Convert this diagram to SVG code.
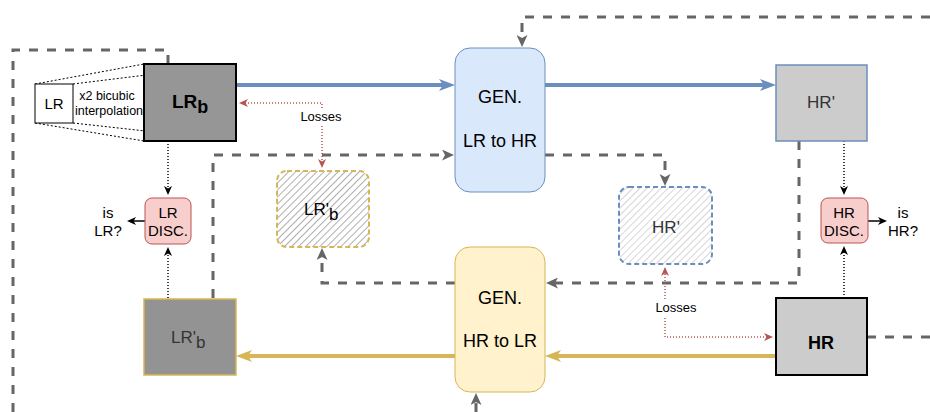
<svg xmlns="http://www.w3.org/2000/svg" width="930" height="412" viewBox="0 0 930 412">
  <style>
    text { font-family: "Liberation Sans", Arial, sans-serif; fill: #000; }
    .gen { font-size: 18px; text-anchor: middle; }
    .disc { font-size: 15px; text-anchor: middle; }
    .small { font-size: 15px; text-anchor: middle; }
    .loss { font-size: 13px; text-anchor: middle; }
    .feedback { fill: none; stroke: #666; stroke-width: 3; stroke-dasharray: 9 9; }
    .dotted { fill: none; stroke: #000; stroke-width: 1.5; stroke-dasharray: 1 2; }
    .lossline { fill: none; stroke: #b85450; stroke-width: 1.5; stroke-dasharray: 1 2; }
    .proj { fill: none; stroke: #000; stroke-width: 1; stroke-dasharray: 2 2; }
  </style>
  <defs>
    <marker id="arrBlue" markerUnits="userSpaceOnUse" markerWidth="16" markerHeight="12" refX="10" refY="6" orient="auto">
      <path d="M0,0 L16,6 L0,12 L4,6 z" fill="#6c8ebf"/>
    </marker>
    <marker id="arrYellow" markerUnits="userSpaceOnUse" markerWidth="16" markerHeight="12" refX="10" refY="6" orient="auto">
      <path d="M0,0 L16,6 L0,12 L4,6 z" fill="#d6b656"/>
    </marker>
    <marker id="arrGray" markerUnits="userSpaceOnUse" markerWidth="12" markerHeight="11" refX="7" refY="5.5" orient="auto">
      <path d="M0,0 L12,5.5 L0,11 L3,5.5 z" fill="#666"/>
    </marker>
    <marker id="arrBlack" markerUnits="userSpaceOnUse" markerWidth="9" markerHeight="8" refX="6" refY="4" orient="auto">
      <path d="M0,0 L9,4 L0,8 L2.5,4 z" fill="#000"/>
    </marker>
    <marker id="arrRed" markerUnits="userSpaceOnUse" markerWidth="9" markerHeight="8" refX="6" refY="4" orient="auto">
      <path d="M0,0 L9,4 L0,8 L2.5,4 z" fill="#b85450"/>
    </marker>
    <pattern id="hatchDark" width="5" height="5" patternUnits="userSpaceOnUse" patternTransform="rotate(45)">
      <rect width="5" height="5" fill="#fff"/>
      <line x1="0" y1="0" x2="0" y2="5" stroke="#777" stroke-width="1.2"/>
    </pattern>
    <pattern id="hatchLight" width="5" height="5" patternUnits="userSpaceOnUse" patternTransform="rotate(45)">
      <rect width="5" height="5" fill="#fff"/>
      <line x1="0" y1="0" x2="0" y2="5" stroke="#bbb" stroke-width="1.2"/>
    </pattern>
  </defs>

  <!-- connectors -->
  <g id="connectors">
    <!-- cycle feedback paths -->
    <path class="feedback" d="M168,64 V50 H13 V412"/>
    <path class="feedback" d="M930,17 H522 V42" marker-end="url(#arrGray)"/>
    <path class="feedback" d="M213,298 V155 H449" marker-end="url(#arrGray)"/>
    <path class="feedback" d="M545,155 H665 V181" marker-end="url(#arrGray)"/>
    <path class="feedback" d="M799,141 V283 H551" marker-end="url(#arrGray)"/>
    <path class="feedback" d="M455,283 H322 V253" marker-end="url(#arrGray)"/>
    <path class="feedback" d="M867,337 H930"/>
    <path class="feedback" d="M476,412 V398" marker-end="url(#arrGray)"/>

    <!-- generator data flow -->
    <line x1="236" y1="85" x2="449" y2="85" stroke="#6c8ebf" stroke-width="4" marker-end="url(#arrBlue)"/>
    <line x1="545" y1="85" x2="770" y2="85" stroke="#6c8ebf" stroke-width="4" marker-end="url(#arrBlue)"/>
    <line x1="776" y1="356" x2="551" y2="356" stroke="#d6b656" stroke-width="4" marker-end="url(#arrYellow)"/>
    <line x1="455" y1="356" x2="242" y2="356" stroke="#d6b656" stroke-width="4" marker-end="url(#arrYellow)"/>

    <!-- discriminator inputs -->
    <line class="dotted" x1="168" y1="141" x2="168" y2="192" marker-end="url(#arrBlack)"/>
    <line class="dotted" x1="168" y1="298" x2="168" y2="250" marker-end="url(#arrBlack)"/>
    <line class="dotted" x1="844" y1="141" x2="844" y2="192" marker-end="url(#arrBlack)"/>
    <line class="dotted" x1="844" y1="298" x2="844" y2="249" marker-end="url(#arrBlack)"/>
    <line x1="145" y1="221" x2="130" y2="221" stroke="#000" stroke-width="1.5" marker-end="url(#arrBlack)"/>
    <line x1="868" y1="221" x2="884" y2="221" stroke="#000" stroke-width="1.5" marker-end="url(#arrBlack)"/>

    <!-- reconstruction losses -->
    <path class="lossline" d="M322,108 V103 H242" marker-end="url(#arrRed)"/>
    <path class="lossline" d="M322,126 V165" marker-end="url(#arrRed)"/>
    <path class="lossline" d="M665,299 V270" marker-end="url(#arrRed)"/>
    <path class="lossline" d="M665,318 V337 H770" marker-end="url(#arrRed)"/>
    <text class="loss" x="321" y="121">Losses</text>
    <text class="loss" x="676" y="312">Losses</text>

    <!-- bicubic projection lines -->
    <line class="proj" x1="35" y1="84" x2="144" y2="64"/>
    <line class="proj" x1="73" y1="84" x2="236" y2="64"/>
    <line class="proj" x1="35" y1="123" x2="144" y2="141"/>
    <line class="proj" x1="73" y1="123" x2="236" y2="141"/>
  </g>

  <!-- nodes -->
  <g id="lr-input">
    <rect x="35" y="84" width="38" height="39" fill="#fff" stroke="#000" stroke-width="1"/>
    <text x="54" y="109" style="font-size:15px;text-anchor:middle">LR</text>
    <text x="107" y="100" style="font-size:12.5px;text-anchor:middle">x2 bicubic</text>
    <text x="109" y="115" style="font-size:12.5px;text-anchor:middle">interpolation</text>
  </g>

  <g id="lr-bicubic">
    <rect x="144" y="64" width="92" height="77" fill="#969696" stroke="#000" stroke-width="2"/>
    <text x="172" y="108" style="font-size:19px;font-weight:bold">LR<tspan dy="5" style="font-size:18px">b</tspan></text>
  </g>

  <g id="gen-lr2hr">
    <rect x="455" y="48" width="90" height="144" rx="15" fill="#dae8fc" stroke="#6c8ebf" stroke-width="1"/>
    <text class="gen" x="500" y="103">GEN.</text>
    <text class="gen" x="500" y="147">LR to HR</text>
  </g>

  <g id="hr-generated">
    <rect x="776" y="65" width="91" height="76" fill="#cccccc" stroke="#6c8ebf" stroke-width="1.5"/>
    <text class="gen" x="821" y="108" style="fill:#333;font-size:17px">HR'</text>
  </g>

  <g id="lr-disc">
    <rect x="145" y="198" width="46" height="46" rx="7" fill="#f8cecc" stroke="#b85450" stroke-width="1"/>
    <text class="disc" x="168" y="218">LR</text>
    <text class="disc" x="168" y="236">DISC.</text>
    <text class="small" x="108" y="218">is</text>
    <text class="small" x="108" y="236">LR?</text>
  </g>

  <g id="hr-disc">
    <rect x="821" y="198" width="47" height="45" rx="7" fill="#f8cecc" stroke="#b85450" stroke-width="1"/>
    <text class="disc" x="844" y="218">HR</text>
    <text class="disc" x="844" y="236">DISC.</text>
    <text class="small" x="903" y="218">is</text>
    <text class="small" x="903" y="236">HR?</text>
  </g>

  <g id="lr-reconstructed">
    <rect x="277" y="171" width="92" height="76" rx="10" fill="url(#hatchDark)" stroke="#d6b656" stroke-width="2" stroke-dasharray="5 3"/>
    <text x="304" y="215" style="font-size:17px">LR'<tspan dy="5" style="font-size:17px">b</tspan></text>
  </g>

  <g id="hr-reconstructed">
    <rect x="619" y="187" width="93" height="77" rx="10" fill="url(#hatchLight)" stroke="#6c8ebf" stroke-width="2" stroke-dasharray="5 3"/>
    <text class="gen" x="666" y="233" style="fill:#333;font-size:17px">HR'</text>
  </g>

  <g id="gen-hr2lr">
    <rect x="455" y="247" width="90" height="145" rx="15" fill="#fff2cc" stroke="#d6b656" stroke-width="1"/>
    <text class="gen" x="500" y="304">GEN.</text>
    <text class="gen" x="500" y="347">HR to LR</text>
  </g>

  <g id="lr-generated">
    <rect x="144" y="299" width="92" height="76" fill="#939393" stroke="#d6b656" stroke-width="1.5"/>
    <text x="171" y="343" style="font-size:17px;fill:#333">LR'<tspan dy="5" style="font-size:17px">b</tspan></text>
  </g>

  <g id="hr-input">
    <rect x="776" y="298" width="91" height="77" fill="#cccccc" stroke="#000" stroke-width="2"/>
    <text x="821" y="349" style="font-size:18px;font-weight:bold;text-anchor:middle">HR</text>
  </g>
</svg>
